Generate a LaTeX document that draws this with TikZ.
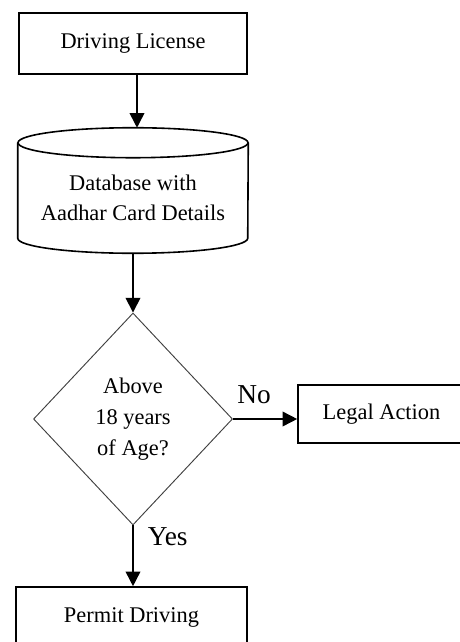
\documentclass[tikz,border=0pt]{standalone}
\usepackage{fontspec}
\setmainfont{Liberation Serif}
\usetikzlibrary{shapes.geometric, arrows.meta, positioning}

\begin{document}
\begin{tikzpicture}[x=0.75pt, y=0.75pt, every node/.style={font=\fontsize{16.8}{23}\selectfont}]
\tikzstyle{block} = [rectangle, draw=black, line width=1.2pt, inner sep=0pt]
\tikzstyle{store} = [rectangle, inner sep=0pt, minimum width=172.5pt, minimum height=82.5pt, align=center]
\tikzstyle{decision} = [diamond, draw=black!75, line width=0.7pt, inner sep=0pt, minimum width=149.25pt, minimum height=159pt, align=center]
\tikzstyle{arr} = [-{Triangle[length=11pt, width=11pt]}, line width=1.2pt]
\tikzstyle{lbl} = [font=\fontsize{20.5}{24}\selectfont, inner sep=0pt]

\useasboundingbox (0,0) rectangle (460,-642);
\clip (0,0) rectangle (460,-642);

\node[block, minimum width=171pt, minimum height=45.75pt] (lic) at (133,-43.5) {Driving License};
\node[store] (db) at (133,-198) {Database with\\Aadhar Card Details};
\node[decision] (dec) at (133,-419) {Above\\18 years\\of Age?};
\node[block, minimum width=125.25pt, minimum height=43.5pt] (legal) at (381.5,-414) {Legal Action};
\node[block, minimum width=173.25pt, minimum height=45pt] (permit) at (131.5,-617) {Permit Driving};

% database drum
\draw[line width=1.2pt] (db.north) ellipse [x radius=86.25pt, y radius=11.25pt];
\draw[line width=1.2pt] (db.north west) -- ([yshift=11.25pt]db.south west)
  arc [start angle=180, end angle=360, x radius=86.25pt, y radius=11.25pt] -- (db.north east);

\draw[arr] ([xshift=3pt]lic.south) -- ([xshift=3pt, yshift=11.25pt]db.north);
\draw[arr] (db.south) -- (dec.north);
\draw[arr] (dec.east) -- node[lbl, above=10.5pt, pos=0.33] (no) {No} (legal.west |- dec.east);
\draw[arr] (dec.south) -- node[lbl, right=10.5pt, pos=0.18] (yes) {Yes} (permit.north -| dec.south);

\end{tikzpicture}
\end{document}
